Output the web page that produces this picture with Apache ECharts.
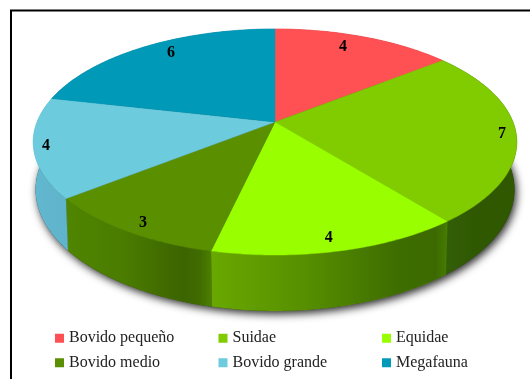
<!DOCTYPE html>
<html><head><meta charset="utf-8">
<style>html,body{margin:0;padding:0;background:#fff}#c{width:530px;height:379px}</style>
<script src="https://cdn.jsdelivr.net/npm/echarts@6/dist/echarts.min.js"></script>
</head><body><div id="c"></div>
<script>
const categories = ['Bovido pequeño','Suidae','Equidae','Bovido medio','Bovido grande','Megafauna'];
const values = [4,7,4,3,4,6];
const topColors = ['#ff5053','#80cc00','#99ff00','#5a8f00','#6ccbdc','#0099b8'];
const wallStops = [
  [[0,'#b83a3c'],[1,'#b83a3c']],
  [[0,'#33600a'],[0.5,'#2f5800'],[1,'#2f5800']],
  [[0,'#69a800'],[0.4,'#568f00'],[0.8,'#3d6c00'],[0.95,'#3c6a00'],[1,'#467c00']],
  [[0,'#4f8500'],[0.4,'#4a7c00'],[0.8,'#3c6400'],[0.92,'#406c00'],[1,'#4d8000']],
  [[0,'#62b8cf'],[1,'#5fb3ca']],
  [[0,'#007a93'],[1,'#007a93']]
];
const labelRadius = [0.845,0.942,0.912,0.925,0.95,0.863];
const labelTurn = [-3.1,0.1,0.8,-1.1,0.1,3.8];

const cx=275, cy=122, R=238, S=109.5, k=0.177, D=46, baseScale=0.99;
const total = values.reduce((a,b)=>a+b,0);
const startAngle = i => values.slice(0,i).reduce((a,b)=>a+b,0)/total*360;
function topPt(deg,r){
  const t=deg*Math.PI/180, u=Math.sin(t)*r, v=-Math.cos(t)*r, d=1-k*v;
  return [cx+R*u/d, cy+S*v/d];
}
function basePt(deg){
  const t=deg*Math.PI/180, u=Math.sin(t), v=-Math.cos(t), d=1-k*v;
  return [cx+baseScale*R*u/d, cy+(S*v+D)/d];
}
function arc(fn,a0,a1){
  const n=Math.max(2,Math.ceil(Math.abs(a1-a0))), p=[];
  for(let j=0;j<=n;j++) p.push(fn(a0+(a1-a0)*j/n));
  return p;
}
const series=[];
series.push({type:'custom',name:'_shadow',coordinateSystem:'none',silent:true,data:[[total]],
  renderItem(){
    return {type:'polygon',shape:{points:arc(basePt,0,360)},
      style:{fill:'#2a2a2a',shadowBlur:9,shadowColor:'rgba(0,0,0,0.85)',shadowOffsetX:2,shadowOffsetY:3}};
  }});
values.forEach((val,i)=>{
  series.push({type:'custom',name:'_wall'+i,coordinateSystem:'none',silent:true,data:[[val]],
    renderItem(params,api){
      const a0=startAngle(i), a1=a0+api.value(0)/total*360;
      const pts=arc(a=>topPt(a,1),a0,a1).concat(arc(basePt,a1,a0));
      const st=wallStops[i];
      return {type:'polygon',shape:{points:pts},style:{
        fill:new echarts.graphic.LinearGradient(0,0,1,0,st.map(s=>({offset:s[0],color:s[1]}))),
        stroke:st[0][1],lineWidth:0.3}};
    }});
});
values.forEach((val,i)=>{
  series.push({type:'custom',name:categories[i],coordinateSystem:'none',silent:true,
    itemStyle:{color:topColors[i]},data:[[val]],
    renderItem(params,api){
      const a0=startAngle(i), a1=a0+api.value(0)/total*360;
      const pts=[[cx,cy]].concat(arc(a=>topPt(a,1),a0,a1));
      const lp=topPt((a0+a1)/2+labelTurn[i],labelRadius[i]);
      return {type:'group',children:[
        {type:'polygon',shape:{points:pts},style:{fill:topColors[i],stroke:topColors[i],lineWidth:0.4}},
        {type:'text',z2:10,style:{text:String(api.value(0)),x:lp[0],y:lp[1],align:'center',verticalAlign:'middle',
          fill:'#000',font:'bold 16px "Liberation Serif"'}}
      ]};
    }});
});
const chart=echarts.init(document.getElementById('c'),null,{renderer:'canvas'});
chart.setOption({
  animation:false,
  backgroundColor:'#fff',
  graphic:[{type:'rect',silent:true,shape:{x:11,y:10.5,width:700,height:700},style:{fill:'none',stroke:'#000',lineWidth:2}}],
  legend:{
    data:categories,left:55,top:326,width:510,padding:0,itemGap:0,itemWidth:9,itemHeight:9,icon:'rect',selectedMode:false,
    textStyle:{fontFamily:'Liberation Serif',fontSize:16,color:'#222',width:149.5,lineHeight:24.5,align:'left'}
  },
  series
});
</script></body></html>
